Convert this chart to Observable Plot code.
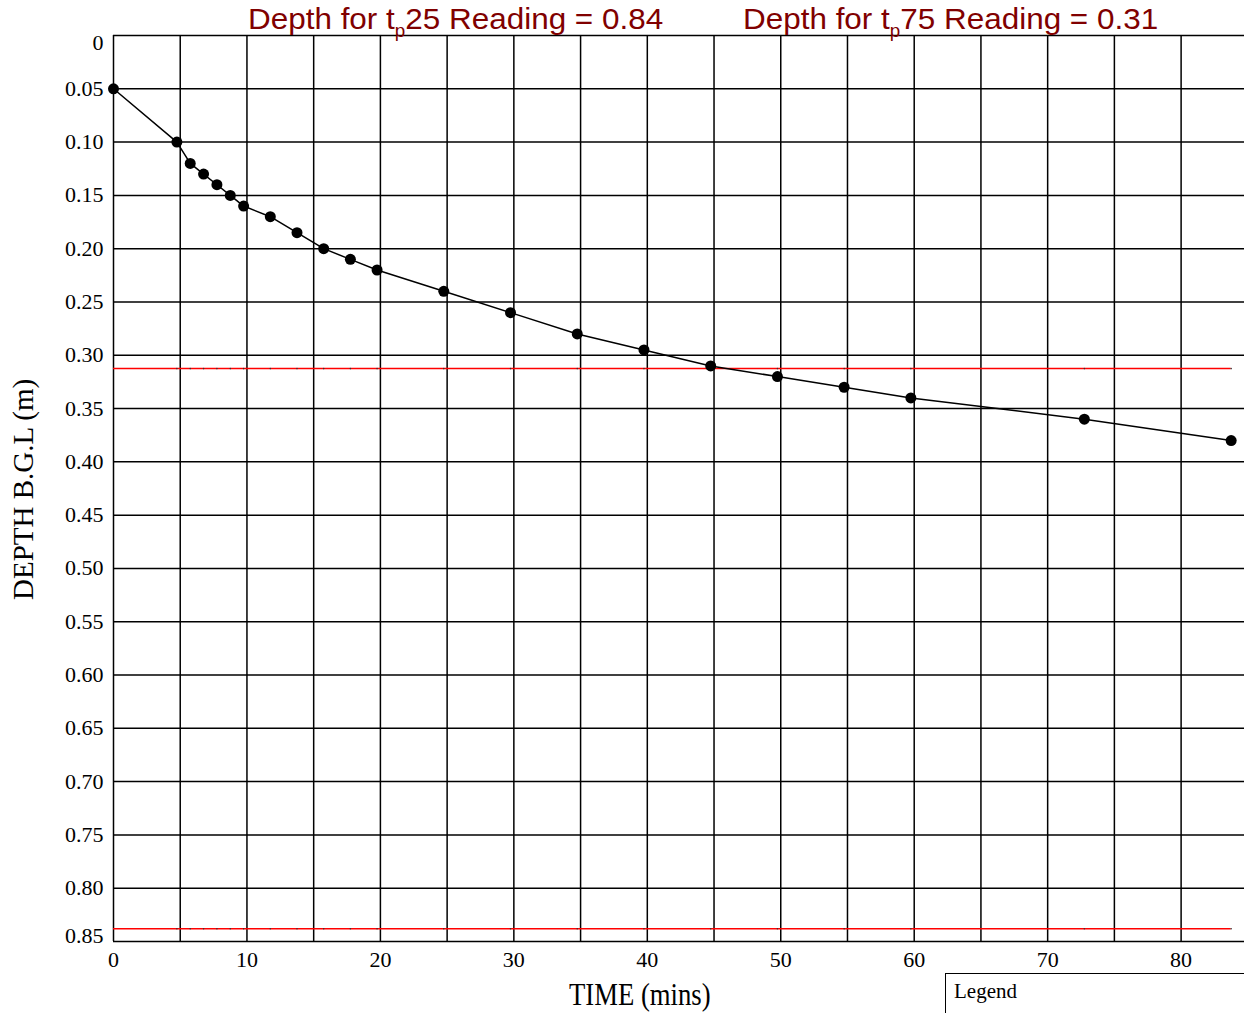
<!DOCTYPE html>
<html>
<head>
<meta charset="utf-8">
<script src="https://cdn.jsdelivr.net/npm/d3@7"></script>
<script src="https://cdn.jsdelivr.net/npm/@observablehq/plot@0.6"></script>
<style>
html,body{margin:0;padding:0;background:#fff;overflow:hidden;}
#wrap{position:relative;width:1244px;height:1013px;}
#chart{position:absolute;left:0;top:0;}
.title{position:absolute;top:2px;font-family:"Liberation Sans",Arial,sans-serif;font-size:30px;color:#800000;white-space:nowrap;line-height:34px;transform-origin:0 0;transform:scaleX(1.048);}
.title .sb{font-size:18px;position:relative;top:8px;}
.axt{position:absolute;left:0;top:0;font-family:"Liberation Serif","Times New Roman",serif;color:#000;white-space:nowrap;line-height:1;transform-origin:0 0;}
#legend{position:absolute;left:945px;top:973px;width:320px;height:60px;border-left:1.5px solid #000;border-top:1.5px solid #000;font-family:"Liberation Serif","Times New Roman",serif;font-size:21px;}
#legend span{position:absolute;left:8px;top:5px;}
</style>
</head>
<body>
<div id="wrap">
  <div id="chart"></div>
  <div class="title" id="t1" style="left:248px;">Depth for t<span class="sb">p</span>25 Reading = 0.84</div>
  <div class="title" id="t2" style="left:743px;">Depth for t<span class="sb">p</span>75 Reading = 0.31</div>
  <div class="axt" id="xt" style="font-size:26.7px;">TIME (mins)</div>
  <div class="axt" id="yt" style="font-size:29px;">DEPTH B.G.L (m)</div>
  <div id="legend"><span>Legend</span></div>
</div>
<script>
// Data
const time  = [0, 4.75, 5.75, 6.75, 7.75, 8.75, 9.75, 11.75, 13.75, 15.75, 17.75, 19.75, 24.75, 29.75, 34.75, 39.75, 44.75, 49.75, 54.75, 59.75, 72.75, 83.75];
const depth = [0.05, 0.10, 0.12, 0.13, 0.14, 0.15, 0.16, 0.17, 0.185, 0.20, 0.21, 0.22, 0.24, 0.26, 0.28, 0.295, 0.31, 0.32, 0.33, 0.34, 0.36, 0.38];
const refDepths = [0.838, 0.3125];   // tp25 and tp75 reference depths (drawn lines)
const xGrid = [0,5,10,15,20,25,30,35,40,45,50,55,60,65,70,75,80];
const xTickLabels = [0,10,20,30,40,50,60,70,80];
const yGrid = [0,0.05,0.10,0.15,0.20,0.25,0.30,0.35,0.40,0.45,0.50,0.55,0.60,0.65,0.70,0.75,0.80,0.85];
const xDomain = [0, 84.75];
const yDomain = [0, 0.85];

const points = time.map((t, i) => ({t, d: depth[i]}));
const refLines = refDepths.map(d => ({x1: 0, x2: time[time.length - 1], d}));
const refTicks = refDepths.flatMap(d => time.slice(1).map(t => ({t, d})));

const fmtY = d => d === 0 ? "0" : d.toFixed(2);
const serif = "Liberation Serif, Times New Roman, serif";

const chart = Plot.plot({
  width: 1244,
  height: 1013,
  marginTop: 35,
  marginLeft: 113,
  marginRight: 0,
  marginBottom: 72,
  style: {fontFamily: serif, background: "#fff", overflow: "visible"},
  x: {domain: xDomain},
  y: {domain: yDomain, reverse: true},
  marks: [
    Plot.gridX(xGrid, {stroke: "#000", strokeOpacity: 1, strokeWidth: 1.5}),
    Plot.gridY(yGrid, {stroke: "#000", strokeOpacity: 1, strokeWidth: 1.5}),
    Plot.ruleY(refLines, {y: "d", x1: "x1", x2: "x2", stroke: "#ff0000", strokeWidth: 1.5}),
    Plot.dot(refTicks, {x: "t", y: "d", r: 0.8, fill: "#333", stroke: "none"}),
    Plot.line(points, {x: "t", y: "d", stroke: "#000", strokeWidth: 1.5}),
    Plot.dot(points, {x: "t", y: "d", r: 5.5, fill: "#000", stroke: "none"}),
    Plot.axisX(xTickLabels, {tickSize: 0, tickPadding: 10, fontSize: 22, label: null, fill: "#000"}),
    Plot.axisY(yGrid.slice(1, -1), {tickSize: 0, tickPadding: 10, fontSize: 22, label: null, tickFormat: fmtY, fill: "#000"}),
    Plot.axisY([yGrid[0]], {tickSize: 0, tickPadding: 10, fontSize: 22, label: null, tickFormat: fmtY, dy: 7, fill: "#000"}),
    Plot.axisY([yGrid[yGrid.length - 1]], {tickSize: 0, tickPadding: 10, fontSize: 22, label: null, tickFormat: fmtY, dy: -6, fill: "#000"})
  ]
});
document.getElementById("chart").appendChild(chart);

// Position axis titles: baseline-left anchor
function placeTitle(el, x, y, rot, stretch) {
  const fs = parseFloat(el.style.fontSize);
  const base = fs * (1 + (0.891 - 0.216)) / 2; // approx baseline offset for line-height:1
  el.style.transform = `translate(${x}px, ${y}px) rotate(${rot}deg) scaleY(${stretch}) translate(0, ${-base}px)`;
}
placeTitle(document.getElementById("xt"), 569, 1005, 0, 1.19);
placeTitle(document.getElementById("yt"), 33, 600, -90, 1.0);
</script>
</body>
</html>
